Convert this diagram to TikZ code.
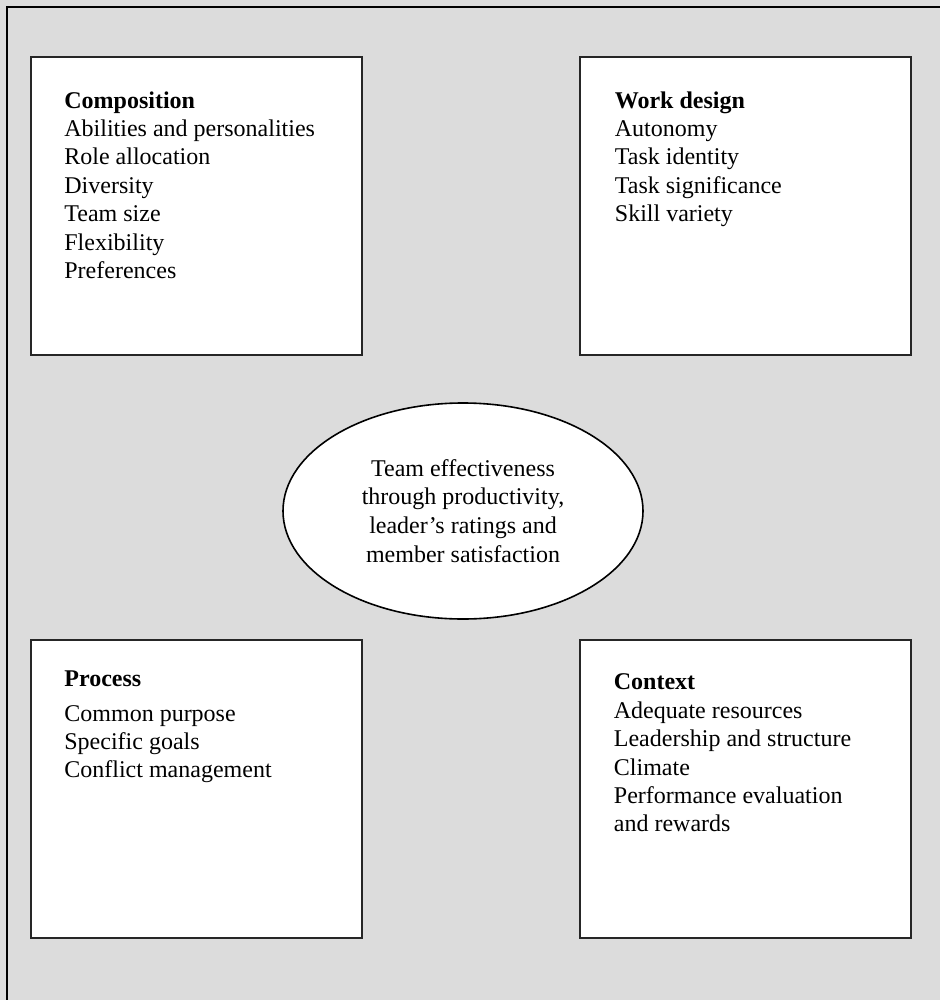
\documentclass[tikz,border=0pt]{standalone}
\usepackage{fontspec}
\setmainfont{Liberation Serif}
\usepackage{tikz}
\usetikzlibrary{positioning, shapes.geometric}
\definecolor{panelgray}{RGB}{220,220,220}
\tikzstyle{factor} = [draw=black!85, line width=1pt, fill=white, rectangle, minimum width=165.5pt, minimum height=149pt, inner sep=0pt]
\tikzstyle{items} = [align=left, inner sep=0pt, font=\fontsize{12}{14.2}\selectfont]
\tikzstyle{outcome} = [draw, line width=0.8pt, fill=white, ellipse, minimum width=180pt, minimum height=108pt, inner sep=0pt, align=center, font=\fontsize{12}{14.4}\selectfont]

\begin{document}
\begin{tikzpicture}[x=0.5pt, y=-0.5pt]
    % Panel, framed on top and left only.
    \useasboundingbox (0,0) rectangle (940,1000);
    \fill [panelgray] (0,0) rectangle (940,1000);
    \draw [line width=1.3pt] (7,1000) -- (7,7) -- (940,7);

    % Factor boxes.
    \node (comp) [factor] at (196.5,206) {};
    \node (work) [factor] at (745,206) {};
    \node (proc) [factor] at (196.5,788.5) {};
    \node (ctx) [factor] at (745,788.5) {};

    % Lists.
    \node (compList) [items, below right=17.5pt and 17pt of comp.north west]
        {\textbf{Composition}\\Abilities and personalities\\Role allocation\\Diversity\\Team size\\Flexibility\\Preferences};
    \node (workList) [items, below right=17.5pt and 18pt of work.north west]
        {\textbf{Work design}\\Autonomy\\Task identity\\Task significance\\Skill variety};
    \node (procList) [items, below right=16pt and 17pt of proc.north west]
        {\textbf{Process}\\[3pt]Common purpose\\Specific goals\\Conflict management};
    \node (ctxList) [items, below right=17.5pt and 17.5pt of ctx.north west]
        {\textbf{Context}\\Adequate resources\\Leadership and structure\\Climate\\Performance evaluation\\and rewards};

    % Outcome.
    \node (core) [outcome] at (463,511)
        {Team effectiveness\\through productivity,\\leader’s ratings and\\member satisfaction};
\end{tikzpicture}
\end{document}
